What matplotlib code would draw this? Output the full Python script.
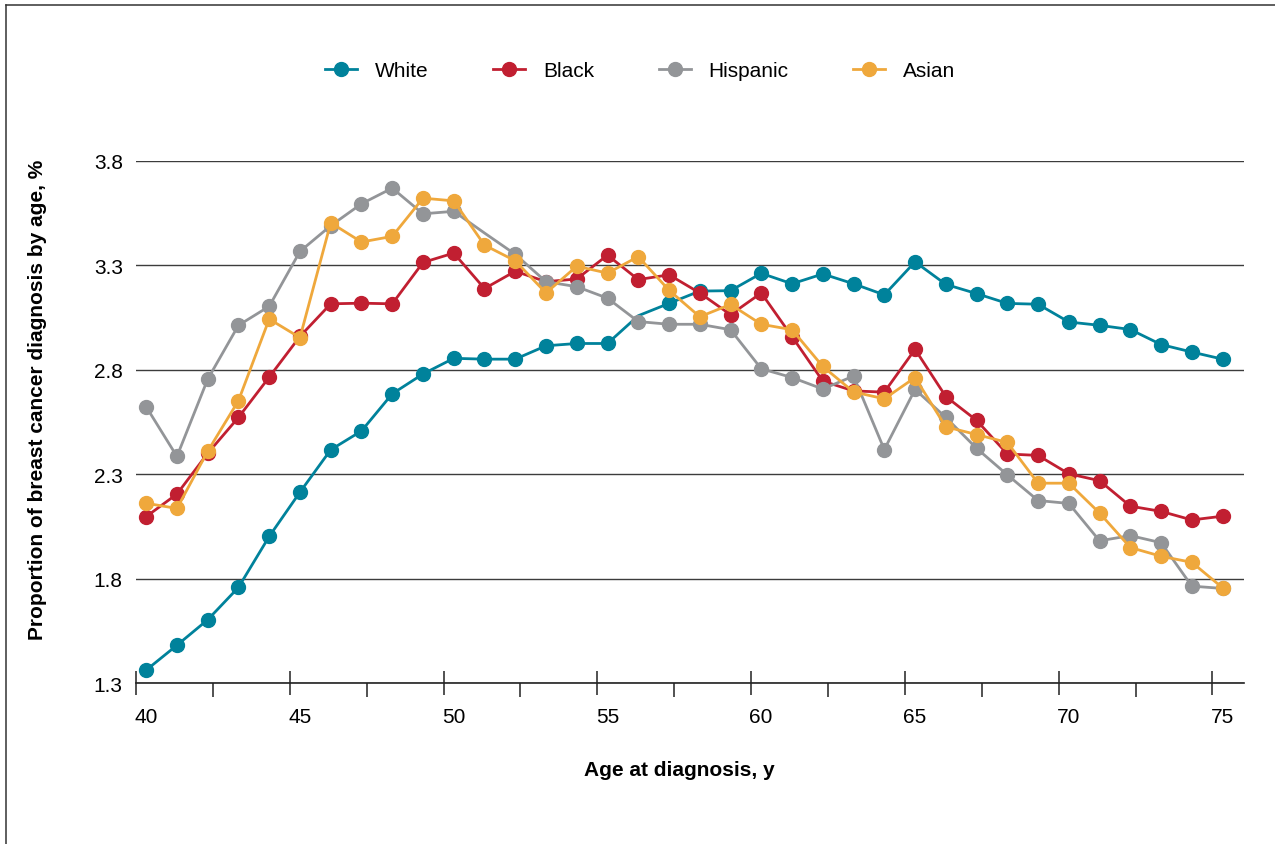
import matplotlib

matplotlib.use("Agg")

import matplotlib.pyplot as plt
from matplotlib.lines import Line2D
from matplotlib.transforms import ScaledTranslation


OUT_PATH = "out.png"
DPI = 100
FIGSIZE = (12.75, 8.45)
FONT_SIZE = 15
LINEWIDTH = 2.0
MARKER_SIZE = 10
GRID_COLOR = "#3c3c3c"

AGES = list(range(40, 76))

WHITE = [
    1.362, 1.481, 1.603, 1.758, 2.002, 2.214, 2.417, 2.507, 2.685, 2.780,
    2.855, 2.851, 2.851, 2.915, 2.926, 2.926, 3.059, 3.118, 3.177, 3.179,
    3.262, 3.212, 3.259, 3.212, 3.159, 3.317, 3.209, 3.165, 3.118, 3.114,
    3.029, 3.013, 2.993, 2.921, 2.885, 2.851,
]
BLACK = [
    2.097, 2.205, 2.400, 2.572, 2.765, 2.960, 3.116, 3.119, 3.116, 3.314,
    3.359, 3.189, 3.272, 3.222, 3.235, 3.349, 3.232, 3.255, 3.168, 3.064,
    3.168, 2.959, 2.746, 2.699, 2.693, 2.898, 2.672, 2.558, 2.397, 2.390,
    2.302, 2.269, 2.147, 2.122, 2.081, 2.099,
]
HISPANIC = [
    2.623, 2.385, 2.755, 3.013, 3.104, 3.367, 3.490, 3.595, 3.670, 3.547,
    3.559, 3.455, 3.353, 3.222, 3.198, 3.143, 3.031, 3.018, 3.018, 2.992,
    2.805, 2.763, 2.708, 2.770, 2.418, 2.706, 2.572, 2.424, 2.297, 2.174,
    2.160, 1.981, 2.006, 1.972, 1.764, 1.753,
]
ASIAN = [
    2.161, 2.136, 2.410, 2.652, 3.043, 2.954, 3.504, 3.412, 3.439, 3.622,
    3.609, 3.397, 3.322, 3.168, 3.296, 3.263, 3.342, 3.181, 3.054, 3.113,
    3.018, 2.992, 2.816, 2.694, 2.661, 2.763, 2.527, 2.490, 2.452, 2.257,
    2.257, 2.114, 1.949, 1.907, 1.878, 1.756,
]

# ages whose dot is not drawn in the source chart
WHITE_NO_DOT = [56]
HISPANIC_NO_DOT = [51]

SERIES = [
    ("White", WHITE, "#00829b", WHITE_NO_DOT),
    ("Black", BLACK, "#c11f31", []),
    ("Hispanic", HISPANIC, "#939598", HISPANIC_NO_DOT),
    ("Asian", ASIAN, "#efa83c", []),
]

Y_TICKS = [1.3, 1.8, 2.3, 2.8, 3.3, 3.8]
X_LABELS = [40, 45, 50, 55, 60, 65, 70, 75]
TICK_SHIFT = -0.33


def draw_series(ax):
    handles = []
    for name, values, color, no_dot in SERIES:
        dots = [i for i, age in enumerate(AGES) if age not in no_dot]
        (line,) = ax.plot(
            AGES, values, "-o", color=color, lw=LINEWIDTH, ms=MARKER_SIZE,
            markevery=dots, label=name, solid_joinstyle="round",
        )
        handles.append(line)
    return handles


def style_axis(ax, fig):
    ax.set_xlim(39.72, 75.68)
    ax.set_ylim(1.3, 3.8)
    for side in ("top", "right", "left"):
        ax.spines[side].set_visible(False)
    ax.spines["bottom"].set_linewidth(1.2)
    ax.spines["bottom"].set_color("#222222")

    ax.set_yticks(Y_TICKS)
    ax.set_yticklabels([f"{v:.1f}" for v in Y_TICKS])
    ax.tick_params(axis="y", length=0, pad=9.5, labelsize=FONT_SIZE)
    ax.yaxis.grid(True, color=GRID_COLOR, lw=1.0)
    ax.set_axisbelow(True)

    ax.set_xticks([a + TICK_SHIFT for a in X_LABELS])
    ax.set_xticklabels([str(a) for a in X_LABELS])
    ax.set_xticks([a + 2.5 + TICK_SHIFT for a in X_LABELS[:-1]], minor=True)
    ax.tick_params(axis="x", which="major", direction="inout", length=17,
                   width=1.1, color="#222222", pad=8.8, labelsize=FONT_SIZE)
    ax.tick_params(axis="x", which="minor", direction="out", length=10,
                   width=1.1, color="#222222")
    shift = ScaledTranslation(0.1, 0, fig.dpi_scale_trans)
    for label in ax.get_xticklabels():
        label.set_transform(label.get_transform() + shift)

    ax.set_xlabel("Age at diagnosis, y", fontsize=FONT_SIZE, fontweight="bold")
    ax.xaxis.set_label_coords(0.491, -0.165)
    ax.xaxis.label.set_va("center")
    ax.set_ylabel("Proportion of breast cancer diagnosis by age, %",
                  fontsize=FONT_SIZE, fontweight="bold")
    ax.yaxis.set_label_coords(-0.089, 0.544)
    ax.yaxis.label.set_va("center")


def draw_frame(fig):
    w, h = fig.get_size_inches() * fig.dpi
    x0 = 5.5 / w
    y0 = 1 - 5.5 / h
    for xs, ys in (([x0, 1.0], [y0, y0]), ([x0, x0], [0.0, y0])):
        fig.add_artist(Line2D(xs, ys, transform=fig.transFigure,
                              color="#333333", lw=1.1))


def main():
    plt.rcParams["font.family"] = ["Liberation Sans", "DejaVu Sans"]
    fig = plt.figure(figsize=FIGSIZE, dpi=DPI)
    ax = fig.add_axes([0.1067, 0.1905, 0.8686, 0.6178])
    handles = draw_series(ax)
    style_axis(ax, fig)
    fig.legend(
        handles=handles, loc="center", bbox_to_anchor=(0.502, 0.915), ncol=4,
        frameon=False, fontsize=FONT_SIZE, handlelength=1.55,
        handletextpad=0.85, columnspacing=3.1,
    )
    draw_frame(fig)
    fig.savefig(OUT_PATH, dpi=DPI)
    plt.close(fig)


if __name__ == "__main__":
    main()
